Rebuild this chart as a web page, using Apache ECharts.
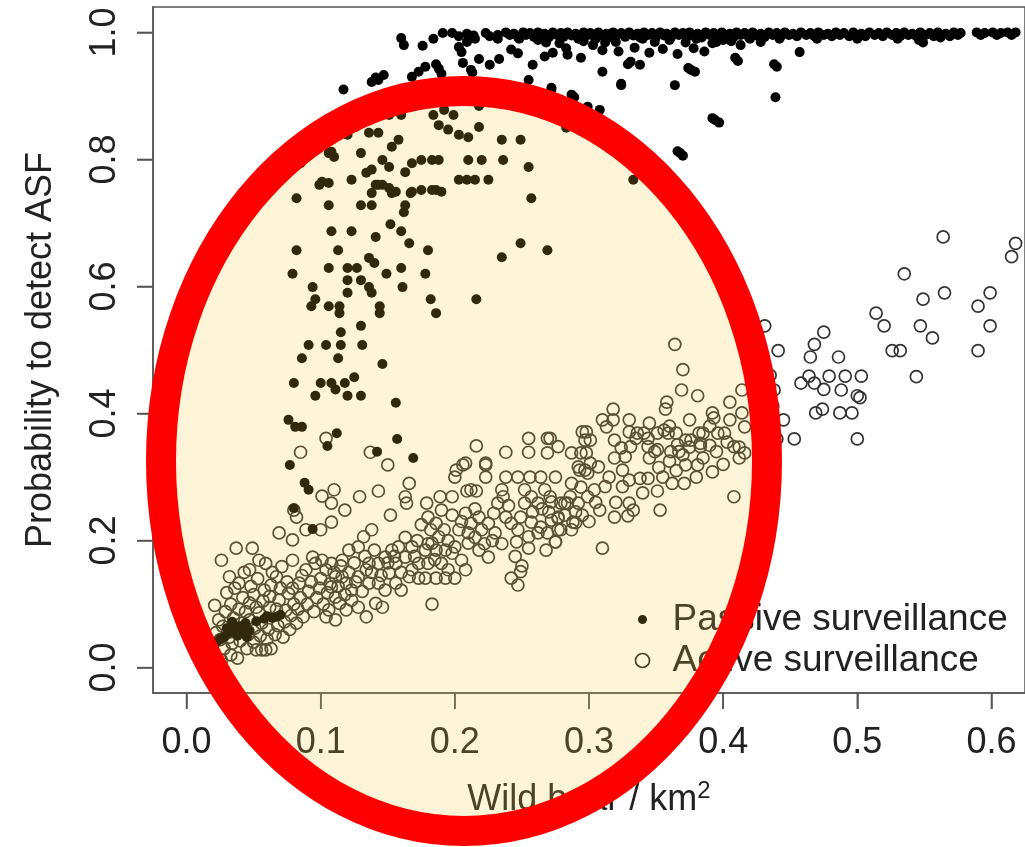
<!DOCTYPE html>
<html><head><meta charset="utf-8">
<script src="https://cdn.jsdelivr.net/npm/echarts@6/dist/echarts.min.js"></script>
<style>html,body{margin:0;padding:0;background:#fff}#c{width:1025px;height:847px}</style>
</head><body><div id="c"></div>
<script>
const xTicks=[0,0.1,0.2,0.3,0.4,0.5,0.6];
const yTicks=[0,0.2,0.4,0.6,0.8,1.0];
const seriesNames=['Passive surveillance','Active surveillance'];

const passiveTopBand=[[0.191,0.999],[0.198,0.999],[0.209,0.998],[0.223,0.999],[0.238,1.0],[0.244,0.998],[0.251,1.0],[0.256,0.999],[0.262,1.0],[0.267,0.998],[0.273,1.0],[0.279,0.999],[0.284,1.0],[0.290,0.998],[0.296,1.0],[0.301,0.999],[0.307,1.0],[0.313,0.998],[0.318,1.0],[0.324,0.999],[0.330,1.0],[0.336,0.998],[0.341,1.0],[0.347,0.999],[0.353,1.0],[0.358,0.998],[0.364,1.0],[0.370,0.999],[0.375,1.0],[0.381,0.998],[0.387,1.0],[0.393,0.999],[0.399,1.0],[0.405,0.998],[0.410,1.0],[0.416,0.999],[0.422,1.0],[0.428,0.998],[0.434,1.0],[0.440,0.999],[0.446,1.0],[0.452,0.998],[0.458,1.0],[0.465,0.999],[0.471,1.0],[0.478,0.998],[0.484,1.0],[0.490,0.999],[0.497,1.0],[0.503,0.998],[0.509,1.0],[0.516,0.999],[0.522,1.0],[0.529,0.999],[0.535,1.0],[0.541,0.998],[0.547,1.0],[0.554,0.999],[0.560,1.0],[0.566,0.998],[0.572,1.0],[0.577,0.999],[0.589,1.0],[0.595,0.999],[0.601,1.0],[0.607,0.999],[0.612,1.0],[0.618,1.0]];
const passiveBandExtra=[[0.241,0.996],[0.247,0.993],[0.253,0.996],[0.259,0.993],[0.265,0.995],[0.270,0.992],[0.276,0.996],[0.281,0.993],[0.287,0.995],[0.293,0.993],[0.299,0.996],[0.304,0.993],[0.310,0.995],[0.315,0.992],[0.321,0.996],[0.327,0.993],[0.333,0.995],[0.338,0.992],[0.344,0.996],[0.350,0.993],[0.356,0.995],[0.361,0.992],[0.367,0.996],[0.373,0.993],[0.378,0.995],[0.384,0.992],[0.390,0.996],[0.396,0.993],[0.402,0.995],[0.408,0.993],[0.413,0.996],[0.419,0.993],[0.425,0.995],[0.431,0.993],[0.437,0.996],[0.443,0.994],[0.449,0.996],[0.455,0.994],[0.462,0.996],[0.468,0.994],[0.475,0.996],[0.481,0.994],[0.487,0.996],[0.494,0.994],[0.500,0.996],[0.506,0.994],[0.513,0.996],[0.519,0.994],[0.526,0.996],[0.532,0.994],[0.538,0.996],[0.544,0.994],[0.551,0.996],[0.557,0.994],[0.563,0.996],[0.569,0.994],[0.575,0.996],[0.592,0.996],[0.604,0.996],[0.615,0.996],[0.226,0.994],[0.232,0.996],[0.214,0.995],[0.203,0.994],[0.268,0.984],[0.296,0.986],[0.312,0.984],[0.349,0.985],[0.372,0.984],[0.392,0.983],[0.406,0.986],[0.428,0.985]];
const passiveBandLower=[[0.160,0.991],[0.162,0.980],[0.176,0.979],[0.184,0.990],[0.203,0.977],[0.205,0.969],[0.209,0.985],[0.215,0.990],[0.218,0.958],[0.226,0.949],[0.232,0.990],[0.233,0.958],[0.242,0.973],[0.247,0.967],[0.248,0.990],[0.258,0.949],[0.262,0.988],[0.267,0.962],[0.273,0.968],[0.278,0.983],[0.283,0.975],[0.284,0.965],[0.292,0.990],[0.294,0.960],[0.303,0.980],[0.305,0.990],[0.310,0.972],[0.320,0.985],[0.322,0.970],[0.331,0.954],[0.334,0.976],[0.338,0.949],[0.340,0.990],[0.345,0.968],[0.355,0.974],[0.360,0.988],[0.366,0.966],[0.376,0.941],[0.378,0.975],[0.380,0.990],[0.386,0.970],[0.395,0.985],[0.400,0.988],[0.409,0.960],[0.411,0.955],[0.413,0.980],[0.420,0.990],[0.438,0.950],[0.440,0.946],[0.442,0.990],[0.457,0.969],[0.470,0.990],[0.500,0.990],[0.530,0.990],[0.546,0.988],[0.549,0.984],[0.562,0.992]];
const passiveUpper=[[0.117,0.910],[0.138,0.922],[0.141,0.929],[0.143,0.925],[0.147,0.933],[0.168,0.930],[0.173,0.938],[0.178,0.946],[0.186,0.950],[0.188,0.943],[0.190,0.935],[0.206,0.952],[0.212,0.941],[0.213,0.937],[0.255,0.925],[0.272,0.910],[0.272,0.913],[0.287,0.902],[0.289,0.898],[0.299,0.883],[0.308,0.878],[0.310,0.938],[0.324,0.917],[0.324,0.919],[0.364,0.917],[0.283,0.850],[0.368,0.810],[0.370,0.806],[0.366,0.813],[0.394,0.862],[0.397,0.858],[0.392,0.865],[0.439,0.898],[0.379,0.938],[0.374,0.944],[0.329,0.950]];
const passiveMid=[[0.151,0.870],[0.160,0.870],[0.184,0.870],[0.192,0.878],[0.199,0.870],[0.188,0.854],[0.195,0.847],[0.203,0.839],[0.210,0.835],[0.218,0.851],[0.218,0.884],[0.235,0.831],[0.249,0.831],[0.126,0.851],[0.136,0.842],[0.143,0.842],[0.120,0.839],[0.108,0.812],[0.110,0.804],[0.106,0.810],[0.130,0.810],[0.153,0.820],[0.158,0.831],[0.146,0.799],[0.151,0.788],[0.168,0.794],[0.175,0.799],[0.183,0.799],[0.188,0.799],[0.163,0.780],[0.210,0.799],[0.220,0.799],[0.236,0.799],[0.255,0.788],[0.203,0.768],[0.209,0.768],[0.215,0.768],[0.225,0.768],[0.101,0.765],[0.106,0.763],[0.085,0.794],[0.134,0.779],[0.138,0.784],[0.123,0.768],[0.143,0.760],[0.151,0.755],[0.156,0.749],[0.168,0.749],[0.175,0.752],[0.183,0.752],[0.190,0.749],[0.333,0.768],[0.099,0.760],[0.082,0.739],[0.106,0.728],[0.130,0.728],[0.138,0.728],[0.138,0.747],[0.141,0.760],[0.146,0.760],[0.153,0.747],[0.167,0.747],[0.186,0.752],[0.163,0.728],[0.162,0.717],[0.257,0.739],[0.108,0.687],[0.123,0.687],[0.141,0.678],[0.152,0.698],[0.160,0.687],[0.166,0.668],[0.180,0.657],[0.082,0.657],[0.113,0.657],[0.249,0.668],[0.235,0.646],[0.269,0.657],[0.136,0.645],[0.140,0.637],[0.079,0.620],[0.106,0.629],[0.120,0.629],[0.127,0.629],[0.149,0.620],[0.160,0.629],[0.178,0.620],[0.120,0.610],[0.130,0.610],[0.094,0.599],[0.136,0.599],[0.138,0.590],[0.161,0.599],[0.120,0.590],[0.096,0.580],[0.093,0.569],[0.106,0.569],[0.114,0.569],[0.114,0.558],[0.144,0.569],[0.144,0.558],[0.182,0.580],[0.186,0.558],[0.216,0.580],[0.130,0.538],[0.115,0.528],[0.091,0.508],[0.104,0.508],[0.115,0.508],[0.131,0.508],[0.086,0.487],[0.113,0.487],[0.146,0.478],[0.080,0.448],[0.100,0.448],[0.108,0.448],[0.111,0.438],[0.118,0.448],[0.125,0.457],[0.096,0.428],[0.120,0.428],[0.130,0.428],[0.156,0.417],[0.076,0.390],[0.081,0.379],[0.086,0.379],[0.112,0.369],[0.105,0.349],[0.157,0.360],[0.142,0.340],[0.169,0.330],[0.077,0.319],[0.088,0.291],[0.091,0.280],[0.080,0.251],[0.094,0.218]];
const passiveLow=[[0.022,0.040],[0.025,0.045],[0.028,0.048],[0.032,0.055],[0.034,0.072],[0.036,0.060],[0.038,0.050],[0.040,0.065],[0.042,0.055],[0.044,0.070],[0.047,0.058],[0.052,0.073],[0.058,0.077],[0.060,0.081],[0.064,0.078],[0.067,0.080],[0.070,0.083],[0.030,0.062],[0.045,0.048]];

const activeRight=[[0.364,0.509],[0.370,0.469],[0.369,0.437],[0.381,0.428],[0.358,0.418],[0.357,0.407],[0.405,0.418],[0.392,0.401],[0.393,0.393],[0.414,0.437],[0.414,0.401],[0.405,0.390],[0.431,0.538],[0.441,0.499],[0.475,0.528],[0.468,0.509],[0.465,0.489],[0.486,0.489],[0.464,0.459],[0.479,0.459],[0.491,0.459],[0.503,0.459],[0.458,0.448],[0.468,0.448],[0.475,0.438],[0.488,0.437],[0.500,0.428],[0.502,0.425],[0.469,0.401],[0.474,0.407],[0.487,0.401],[0.496,0.401],[0.500,0.360],[0.453,0.360],[0.440,0.360],[0.445,0.390],[0.438,0.437],[0.435,0.460],[0.437,0.412],[0.514,0.558],[0.520,0.538],[0.535,0.620],[0.549,0.580],[0.547,0.538],[0.556,0.519],[0.526,0.499],[0.532,0.499],[0.544,0.458],[0.564,0.678],[0.565,0.590],[0.590,0.569],[0.599,0.590],[0.599,0.538],[0.590,0.499],[0.615,0.647],[0.618,0.668],[0.412,0.330],[0.412,0.347],[0.416,0.379],[0.416,0.338],[0.408,0.348],[0.401,0.369],[0.408,0.269],[0.392,0.308]];
const activeCenter=[[0.318,0.407],[0.310,0.390],[0.318,0.390],[0.313,0.379],[0.330,0.390],[0.336,0.369],[0.330,0.371],[0.341,0.369],[0.351,0.369],[0.356,0.374],[0.359,0.369],[0.365,0.369],[0.372,0.358],[0.382,0.369],[0.385,0.369],[0.331,0.348],[0.344,0.348],[0.349,0.340],[0.319,0.358],[0.324,0.346],[0.366,0.351],[0.361,0.340],[0.376,0.358],[0.383,0.348],[0.271,0.361],[0.277,0.348],[0.269,0.338],[0.294,0.338],[0.287,0.338],[0.298,0.371],[0.297,0.358],[0.310,0.188],[0.353,0.248],[0.351,0.278],[0.362,0.290],[0.371,0.290],[0.330,0.259],[0.333,0.248],[0.319,0.237],[0.329,0.239],[0.308,0.248],[0.372,0.319],[0.381,0.319],[0.338,0.298],[0.344,0.298],[0.325,0.311],[0.299,0.269],[0.286,0.269],[0.288,0.229],[0.275,0.198],[0.277,0.235],[0.279,0.217],[0.287,0.217],[0.272,0.261],[0.297,0.311],[0.307,0.316],[0.301,0.322],[0.319,0.330],[0.335,0.361],[0.344,0.361],[0.327,0.332],[0.351,0.343],[0.367,0.340],[0.375,0.347],[0.383,0.353],[0.396,0.369],[0.295,0.371],[0.301,0.358],[0.298,0.338],[0.292,0.316],[0.299,0.306],[0.294,0.284],[0.304,0.280],[0.287,0.290],[0.282,0.259],[0.292,0.259],[0.290,0.228]];
const activeMid=[[0.216,0.349],[0.238,0.339],[0.255,0.361],[0.255,0.339],[0.269,0.361],[0.223,0.319],[0.223,0.300],[0.206,0.319],[0.201,0.311],[0.200,0.300],[0.179,0.259],[0.189,0.269],[0.198,0.269],[0.209,0.278],[0.216,0.278],[0.238,0.300],[0.247,0.300],[0.256,0.300],[0.264,0.300],[0.275,0.300],[0.293,0.311],[0.235,0.280],[0.236,0.269],[0.252,0.280],[0.257,0.269],[0.267,0.280],[0.271,0.269],[0.279,0.259],[0.284,0.259],[0.252,0.259],[0.262,0.259],[0.232,0.259],[0.180,0.237],[0.190,0.248],[0.186,0.227],[0.182,0.217],[0.192,0.217],[0.198,0.240],[0.208,0.243],[0.212,0.227],[0.218,0.237],[0.225,0.227],[0.229,0.243],[0.203,0.217],[0.210,0.212],[0.220,0.217],[0.230,0.212],[0.238,0.237],[0.242,0.227],[0.249,0.237],[0.257,0.229],[0.264,0.221],[0.272,0.232],[0.277,0.237],[0.247,0.217],[0.255,0.206],[0.262,0.212],[0.269,0.212],[0.277,0.217],[0.246,0.198],[0.255,0.188],[0.275,0.198],[0.242,0.141],[0.249,0.151],[0.247,0.130],[0.183,0.100],[0.210,0.196],[0.218,0.185],[0.225,0.174],[0.200,0.190],[0.205,0.169],[0.208,0.154],[0.200,0.141],[0.193,0.141],[0.186,0.141],[0.178,0.141],[0.188,0.206],[0.183,0.196],[0.178,0.185],[0.186,0.185],[0.193,0.185],[0.173,0.164],[0.180,0.164],[0.190,0.164],[0.195,0.154],[0.208,0.322],[0.223,0.322],[0.212,0.280]];
const activeLeft=[[0.104,0.361],[0.085,0.339],[0.137,0.339],[0.150,0.319],[0.110,0.280],[0.101,0.270],[0.108,0.259],[0.129,0.269],[0.143,0.278],[0.166,0.290],[0.163,0.269],[0.164,0.259],[0.118,0.248],[0.080,0.248],[0.082,0.237],[0.152,0.240],[0.168,0.190],[0.163,0.174],[0.156,0.164],[0.151,0.149],[0.168,0.154],[0.166,0.143],[0.173,0.141],[0.153,0.185],[0.148,0.174],[0.143,0.164],[0.136,0.164],[0.134,0.154],[0.128,0.143],[0.136,0.133],[0.143,0.133],[0.148,0.122],[0.156,0.133],[0.160,0.122],[0.138,0.217],[0.132,0.206],[0.128,0.190],[0.121,0.185],[0.116,0.169],[0.108,0.164],[0.101,0.169],[0.096,0.164],[0.104,0.154],[0.111,0.143],[0.119,0.133],[0.123,0.122],[0.116,0.143],[0.108,0.127],[0.111,0.111],[0.114,0.101],[0.106,0.091],[0.104,0.080],[0.111,0.075],[0.119,0.091],[0.123,0.106],[0.128,0.095],[0.134,0.080],[0.141,0.101],[0.146,0.095],[0.089,0.217],[0.100,0.217],[0.108,0.229]];
const activeCluster=[[0.079,0.169],[0.071,0.159],[0.067,0.143],[0.059,0.164],[0.054,0.169],[0.047,0.154],[0.039,0.133],[0.032,0.143],[0.026,0.169],[0.037,0.188],[0.049,0.188],[0.069,0.212],[0.079,0.201],[0.094,0.174],[0.089,0.154],[0.084,0.133],[0.076,0.117],[0.069,0.106],[0.062,0.095],[0.054,0.086],[0.047,0.075],[0.039,0.059],[0.032,0.048],[0.025,0.044],[0.019,0.033],[0.056,0.028],[0.052,0.028],[0.059,0.028],[0.063,0.030],[0.020,0.020],[0.022,0.055],[0.024,0.075],[0.021,0.098],[0.026,0.012],[0.028,0.030],[0.027,0.065],[0.029,0.088],[0.030,0.118],[0.033,0.020],[0.034,0.038],[0.035,0.078],[0.033,0.100],[0.036,0.125],[0.038,0.015],[0.040,0.042],[0.041,0.070],[0.039,0.092],[0.042,0.110],[0.043,0.150],[0.045,0.030],[0.046,0.052],[0.044,0.088],[0.047,0.102],[0.048,0.128],[0.050,0.040],[0.051,0.062],[0.052,0.095],[0.050,0.115],[0.053,0.140],[0.055,0.050],[0.056,0.070],[0.057,0.105],[0.058,0.122],[0.060,0.045],[0.061,0.060],[0.062,0.112],[0.063,0.130],[0.064,0.150],[0.066,0.052],[0.068,0.066],[0.067,0.092],[0.070,0.125],[0.072,0.048],[0.073,0.072],[0.074,0.090],[0.075,0.135],[0.077,0.060],[0.078,0.082],[0.080,0.100],[0.079,0.125],[0.082,0.070],[0.083,0.092],[0.085,0.110],[0.086,0.145],[0.087,0.080],[0.090,0.100],[0.091,0.120],[0.093,0.135],[0.095,0.088],[0.097,0.110],[0.099,0.125],[0.100,0.140]];
const activeFill=[[0.102,0.100],[0.105,0.118],[0.107,0.132],[0.110,0.150],[0.113,0.128],[0.115,0.160],[0.118,0.115],[0.121,0.150],[0.125,0.165],[0.126,0.135],[0.131,0.120],[0.133,0.175],[0.138,0.150],[0.140,0.185],[0.145,0.145],[0.150,0.165],[0.155,0.175],[0.158,0.190],[0.160,0.150],[0.163,0.205],[0.170,0.175],[0.172,0.200],[0.175,0.225],[0.180,0.195],[0.185,0.170],[0.195,0.200],[0.198,0.180],[0.205,0.230],[0.215,0.205],[0.215,0.250],[0.222,0.195],[0.228,0.200],[0.235,0.195],[0.240,0.255],[0.245,0.175],[0.250,0.160],[0.258,0.245],[0.265,0.250],[0.268,0.185],[0.270,0.245],[0.282,0.240],[0.290,0.245],[0.295,0.240],[0.300,0.230],[0.305,0.260],[0.312,0.285],[0.315,0.300],[0.320,0.260],[0.325,0.285],[0.330,0.295],[0.340,0.275],[0.345,0.330],[0.352,0.315],[0.355,0.300],[0.360,0.325],[0.365,0.310],[0.370,0.335],[0.380,0.300],[0.385,0.330],[0.390,0.350],[0.395,0.340],[0.400,0.320],[0.403,0.355],[0.360,0.380],[0.345,0.385],[0.375,0.390],[0.390,0.380]];

const passiveAll=[].concat(passiveTopBand,passiveBandExtra,passiveBandLower,passiveUpper,passiveMid,passiveLow);
const activeAll=[].concat(activeRight,activeCenter,activeMid,activeLeft,activeCluster,activeFill);

const FONT='"Liberation Sans", Arial, Helvetica, sans-serif';
const TXT='#222';
const TICK='#555';
const AX={color:TICK,width:1.5};
const X_MIN=-0.025,X_MAX=0.625,Y_MIN=-0.04,Y_MAX=1.04;
const TICK_LEN=16;
const ellipseEl={id:'ring',type:'ellipse',silent:true,z:100,shape:{cx:464,cy:461,rx:303,ry:370},
  style:{fill:'rgba(250,200,60,0.2)',stroke:'#ff0000',lineWidth:30}};

const chart=echarts.init(document.getElementById('c'));
chart.setOption({
  animation:false,
  grid:{left:153,right:-4,top:7,bottom:154,show:true,borderColor:'#555',borderWidth:1.5},
  xAxis:{type:'value',min:X_MIN,max:X_MAX,
    axisLine:{show:true,onZero:false,lineStyle:AX},splitLine:{show:false},
    axisTick:{show:true,customValues:xTicks,length:TICK_LEN,lineStyle:AX},
    axisLabel:{customValues:xTicks,formatter:v=>v.toFixed(1),fontSize:36,color:TXT,margin:32,fontFamily:FONT},
    name:'{a|Wild boar / km}{s|2}',nameLocation:'middle',nameGap:86,
    nameTextStyle:{rich:{a:{fontSize:36,color:TXT,fontFamily:FONT},s:{fontSize:24,color:TXT,fontFamily:FONT,padding:[0,0,18,0]}}}
  },
  yAxis:{type:'value',min:Y_MIN,max:Y_MAX,
    axisLine:{show:true,onZero:false,lineStyle:AX},splitLine:{show:false},
    axisTick:{show:true,customValues:yTicks,length:TICK_LEN,lineStyle:AX},
    axisLabel:{customValues:yTicks,formatter:v=>v.toFixed(1),rotate:90,fontSize:36,color:TXT,margin:30,fontFamily:FONT},
    name:'Probability to detect ASF',nameLocation:'middle',nameGap:94,
    nameTextStyle:{fontSize:36,color:TXT,fontFamily:FONT}
  },
  legend:{left:628,top:596,orient:'vertical',itemWidth:14,itemHeight:14,itemGap:4,selectedMode:false,
    textStyle:{fontSize:37,color:TXT,fontFamily:FONT,padding:[0,0,0,18]},
    data:[
      {name:seriesNames[0],icon:'circle',itemStyle:{color:'#000',opacity:1,borderColor:'#fff',borderWidth:5}},
      {name:seriesNames[1],icon:'circle',itemStyle:{color:'rgba(0,0,0,0)',opacity:1,borderColor:'#222',borderWidth:1.7}}
    ]
  },
  series:[
    {type:'scatter',name:seriesNames[1],data:activeAll,symbol:'circle',symbolSize:12,z:2,
      itemStyle:{color:'rgba(0,0,0,0)',opacity:1,borderColor:'#333',borderWidth:1.7},emphasis:{disabled:true}},
    {type:'scatter',name:seriesNames[0],data:passiveAll,symbol:'circle',symbolSize:10,z:3,
      itemStyle:{color:'#000',opacity:1},emphasis:{disabled:true}}
  ],
  graphic:[ellipseEl]
});

// Outward tick marks placed through the chart's own scales.
const tickEls=[];
xTicks.forEach((v,i)=>{
  const p=chart.convertToPixel({gridIndex:0},[v,Y_MIN]);
  tickEls.push({id:'xt'+i,type:'line',silent:true,z:50,
    shape:{x1:p[0],y1:p[1],x2:p[0],y2:p[1]+TICK_LEN},style:{stroke:TICK,lineWidth:1.5}});
});
yTicks.forEach((v,i)=>{
  const p=chart.convertToPixel({gridIndex:0},[X_MIN,v]);
  tickEls.push({id:'yt'+i,type:'line',silent:true,z:50,
    shape:{x1:p[0]-TICK_LEN,y1:p[1],x2:p[0],y2:p[1]},style:{stroke:TICK,lineWidth:1.5}});
});
chart.setOption({graphic:[ellipseEl].concat(tickEls)});
</script></body></html>
